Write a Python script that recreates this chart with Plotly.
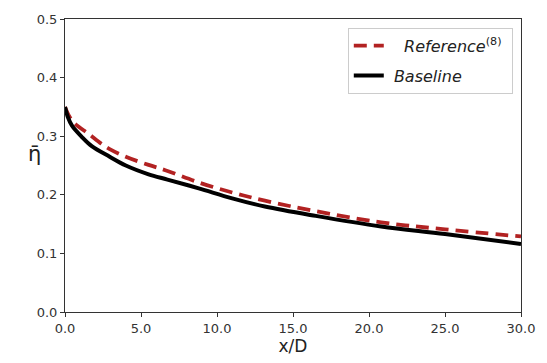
import plotly.graph_objects as go

x_ref = [0.0, 0.3, 0.67, 1.55, 2.4, 2.94, 4.0, 5.5, 6.6, 8.8, 11.0, 13.15, 16.5, 20.8, 25.0, 30.0]
eta_ref = [0.350, 0.333, 0.321, 0.304, 0.287, 0.278, 0.265, 0.251, 0.242, 0.221, 0.204, 0.190, 0.172, 0.153, 0.141, 0.129]

x_base = [0.0, 0.2, 0.46, 1.1, 1.76, 2.94, 4.0, 5.5, 6.74, 8.8, 11.0, 13.15, 16.5, 20.8, 25.0, 30.0]
eta_base = [0.350, 0.332, 0.318, 0.299, 0.283, 0.265, 0.250, 0.235, 0.226, 0.211, 0.194, 0.180, 0.164, 0.146, 0.133, 0.116]

x_ticks = [0, 5, 10, 15, 20, 25, 30]
y_ticks = [0.0, 0.1, 0.2, 0.3, 0.4, 0.5]

fig = go.Figure()
fig.add_trace(go.Scatter(x=x_ref, y=eta_ref, mode="lines",
                         name="&nbsp;&nbsp;&nbsp;<i>Reference</i><sup>(8)</sup>&nbsp;",
                         legendgroup="a",
                         line=dict(color="#b22222", width=3.8, dash="13px,7px", shape="spline")))
fig.add_trace(go.Scatter(x=x_base, y=eta_base, mode="lines",
                         name="&nbsp;<i>Baseline</i>", legendgroup="b",
                         line=dict(color="black", width=4, shape="spline")))

axis_common = dict(showline=True, linecolor="#333", linewidth=1, mirror=True,
                   ticks="outside", ticklen=4, tickcolor="#333", showgrid=False,
                   zeroline=False, tickfont=dict(family="DejaVu Sans", size=13, color="#333"),
                   tickformat=".1f")

fig.update_xaxes(range=[0, 30], tickvals=x_ticks, **axis_common,
                 title=dict(text="x/D", font=dict(family="DejaVu Sans", size=17, color="#222"), standoff=4))
fig.update_yaxes(range=[0, 0.5], tickvals=y_ticks, **axis_common)

fig.add_annotation(text="η̄", xref="paper", yref="paper", x=-0.085, y=0.54,
                   showarrow=False, font=dict(family="DejaVu Sans", size=21, color="#222"))

fig.update_layout(
    width=547, height=363,
    margin=dict(l=65, r=23, t=14, b=50),
    plot_bgcolor="white", paper_bgcolor="white",
    showlegend=True,
    legend=dict(x=0.982, xanchor="right", y=0.97, yanchor="top",
                bordercolor="#ccc", borderwidth=1, bgcolor="white",
                font=dict(family="DejaVu Sans", size=16, color="#222"),
                tracegroupgap=6),
)

fig.write_html("out.html")
